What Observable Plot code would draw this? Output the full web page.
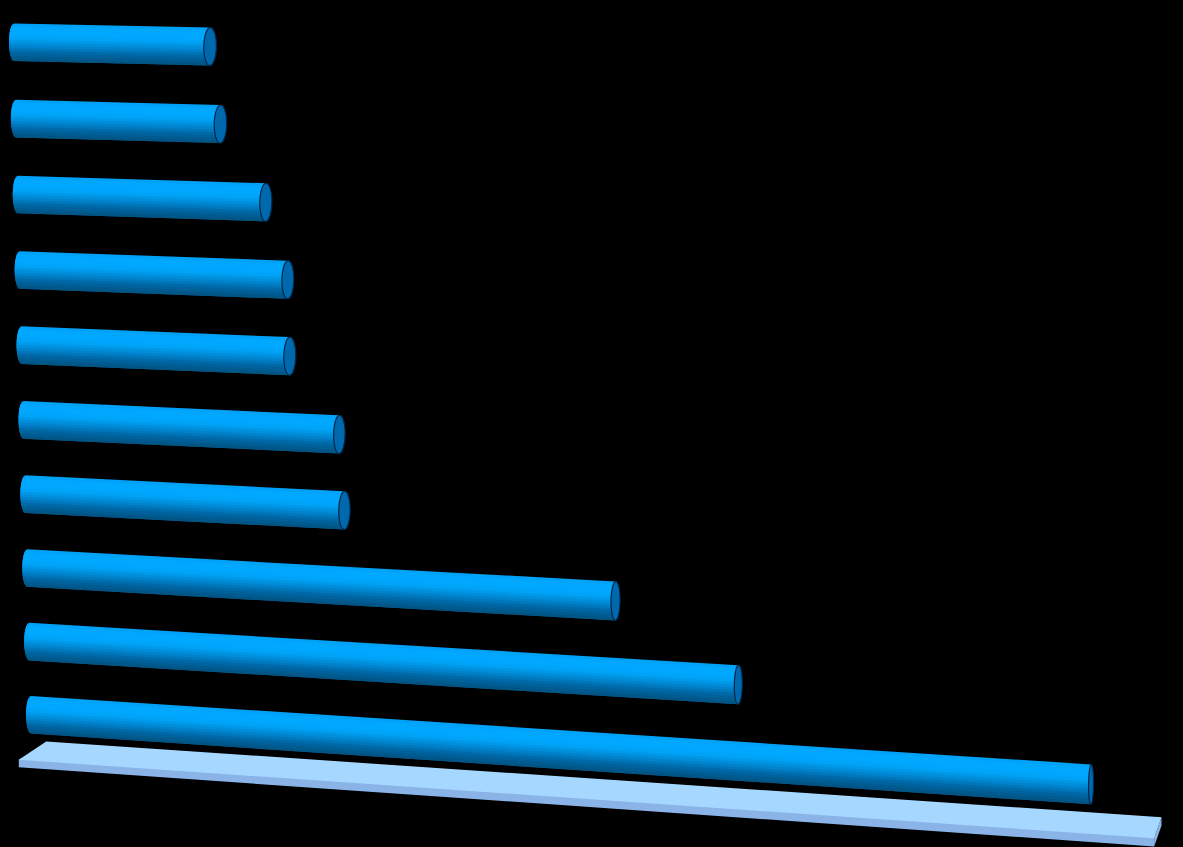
<!DOCTYPE html>
<html>
<head>
<meta charset="utf-8">
<script src="https://cdn.jsdelivr.net/npm/d3@7"></script>
<script src="https://cdn.jsdelivr.net/npm/@observablehq/plot@0.6"></script>
<style>
html,body{margin:0;padding:0;background:#000;overflow:hidden}
svg{display:block}
</style>
</head>
<body>
<div id="chart"></div>
<script>
// Ten unlabelled categories, top to bottom; values relative to the longest bar.
const categories = ["1","2","3","4","5","6","7","8","9","10"];
const values = [18.5, 19.3, 23.4, 25.3, 25.3, 29.8, 30.1, 55.5, 66.9, 100];
const shadeStops = ["#00a0f4","#00a8ff","#00a8ff","#00a4f8","#0094e2","#0080c8","#006aa8","#005c94","#00527f"];
const capFill = "#0068ad", capStroke = "#00274a";
const floorTop = "#a6d8ff", floorFront = "#8ab4e8";
const floorRange = [0, 100];

const W = 1183, H = 847;
const pxPerValue = 10.6, pxPerRow = 76.3, originX = 13.5, originY = 23;
const shade = d3.piecewise(d3.interpolateRgb, shadeStops);
const strips = 14;

// oblique view: each row starts further right and tilts more steeply
const rowShift = i => 0.179 * i;
const rowTop = i => i * 1.0026 - 0.0026 * i * i;
const tilt = i => (0.0205 + 0.0049 * i) * pxPerValue / pxPerRow;
const thick = v => (37.6 + 0.0022 * v * pxPerValue) / pxPerRow;
const endRx = (i, v) => (7.2 - 0.0043 * (originX + (v + rowShift(i)) * pxPerValue)) / pxPerValue;

function point(i, v, s, dx = 0) {
  return {
    x: v + rowShift(i) + dx,
    y: rowTop(i) + tilt(i) * v + s * thick(v)
  };
}

const bodyRows = [], capRows = [];
values.forEach((v, i) => {
  for (let k = 0; k < strips; k++) {
    // each strip overlaps the next one, which paints over it
    const s0 = k / strips, s1 = Math.min(1, (k + 2) / strips);
    const id = `${categories[i]}-${k}`, color = shade((k + 0.5) / strips);
    const bulge = s => -(5 / pxPerValue) * Math.sqrt(Math.max(0, 1 - (2 * s - 1) ** 2));
    const n = 8;
    for (let a = 0; a <= n; a++) {
      const s = s0 + (s1 - s0) * a / n;
      bodyRows.push({id, color, ...point(i, 0, s, bulge(s))});
    }
    bodyRows.push({id, color, ...point(i, v, s1)});
    bodyRows.push({id, color, ...point(i, v, s0)});
  }
  const rx = endRx(i, v);
  d3.range(0, 49).forEach(a => {
    const t = a / 48 * 2 * Math.PI;
    const s = 0.5 + 0.5 * Math.sin(t);
    capRows.push({id: categories[i], ...point(i, v, s, rx * Math.cos(t) + 0.05 * (0.5 - s))});
  });
});

// floor slab under the bars, spanning the whole value range
const [f0, f1] = floorRange;
const floorAt = (v, d, drop = 0) => {
  const u = (v - f0) / (f1 - f0);
  const x0 = 18.3 + d * 27.4, x1 = 1153.7 + d * 7.3;
  const y0 = 759.3 - d * 18.3, y1 = 837.7 - d * 21;
  return {
    x: (x0 + (x1 - x0) * u - originX) / pxPerValue,
    y: (y0 + (y1 - y0) * u + drop - originY) / pxPerRow
  };
};
const floorPolys = [
  // the front and side run a little under the top face so no seam shows
  {id: "front", color: floorFront, pts: [floorAt(f0,0), floorAt(f0,0.1), floorAt(f1,0.1), floorAt(f1,0), floorAt(f1,0,8.3), floorAt(f0,0,7.4)]},
  {id: "side", color: floorFront, pts: [floorAt(f1,0), floorAt(f1,1), floorAt(f1,1,8.3), floorAt(f1,0,8.3)]},
  {id: "top", color: floorTop, pts: [floorAt(f0,1), floorAt(f1,1), floorAt(f1,0), floorAt(f0,0)]}
].flatMap(p => p.pts.map(q => ({id: p.id, color: p.color, ...q})));

const chart = Plot.plot({
  width: W, height: H,
  margin: 0,
  style: {background: "#000"},
  x: {axis: null, domain: [0, 100], range: [originX, originX + 100 * pxPerValue]},
  y: {axis: null, domain: [0, 10], range: [originY, originY + 10 * pxPerRow]},
  color: {type: "identity"},
  marks: [
    Plot.line(floorPolys, {x: "x", y: "y", z: "id", fill: "color", stroke: "none", curve: "linear-closed"}),
    Plot.line(bodyRows, {x: "x", y: "y", z: "id", fill: "color", stroke: "none", curve: "linear-closed"}),
    Plot.line(capRows, {x: "x", y: "y", z: "id", fill: capFill, stroke: capStroke, strokeWidth: 1.2, curve: "linear-closed"})
  ]
});
document.getElementById("chart").appendChild(chart);
</script>
</body>
</html>
